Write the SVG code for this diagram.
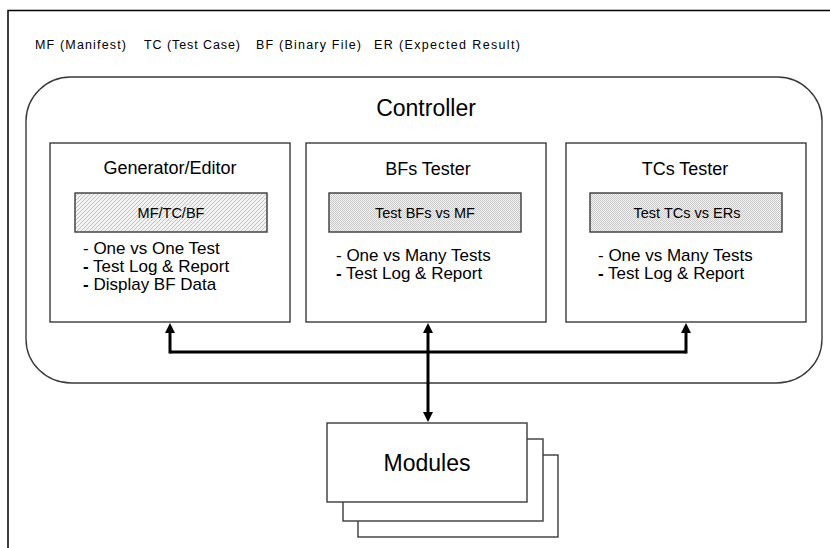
<svg xmlns="http://www.w3.org/2000/svg" width="830" height="548" viewBox="0 0 830 548">
<style>
  text { font-family: "Liberation Sans", Arial, sans-serif; fill: #000; }
  .frame { fill: none; stroke: #000; stroke-width: 1.5; }
  .box { fill: #fff; stroke: #3a3a3a; stroke-width: 1.4; }
  .ctrl { fill: #fff; stroke: #3a3a3a; stroke-width: 1.4; }
  .hatchbox { stroke: #3a3a3a; stroke-width: 1.4; }
  .legend { font-size: 12.5px; }
  .title { font-size: 18px; text-anchor: middle; }
  .big { font-size: 23px; text-anchor: middle; }
  .inner { font-size: 14.5px; text-anchor: middle; }
  .item { font-size: 17px; }
  .conn { fill: none; stroke: #000; stroke-width: 3; }
</style>
<defs>
  <pattern id="diag" width="4" height="4" patternUnits="userSpaceOnUse">
    <rect width="4" height="4" fill="#f2f2f2"/>
    <path d="M-1,1 L1,-1 M0,4 L4,0 M3,5 L5,3" stroke="#b8b8b8" stroke-width="0.8"/>
  </pattern>
  <pattern id="dots" width="2" height="2" patternUnits="userSpaceOnUse">
    <rect width="2" height="2" fill="#f4f4f4"/>
    <rect width="1" height="1" fill="#c8c8c8"/>
    <rect x="1" y="1" width="1" height="1" fill="#c8c8c8"/>
  </pattern>
  <marker id="ah" viewBox="0 0 10 10" refX="4" refY="5" markerWidth="10" markerHeight="10" markerUnits="userSpaceOnUse" orient="auto">
    <path d="M0,0 L10,5 L0,10 z" fill="#000"/>
  </marker>
</defs>

<path class="frame" d="M8,548 V10.5 H830"/>

<g id="legend">
  <text class="legend" x="35" y="49" textLength="91" lengthAdjust="spacing">MF (Manifest)</text>
  <text class="legend" x="144" y="49" textLength="96" lengthAdjust="spacing">TC (Test Case)</text>
  <text class="legend" x="256" y="49" textLength="105" lengthAdjust="spacing">BF (Binary File)</text>
  <text class="legend" x="374" y="49" textLength="146" lengthAdjust="spacing">ER (Expected Result)</text>
</g>

<g id="controller">
  <rect class="ctrl" x="26" y="77" width="796" height="306" rx="45" ry="44"/>
  <text class="big" x="426" y="116">Controller</text>
</g>

<g id="generator-editor">
  <rect class="box" x="50" y="143" width="240" height="179"/>
  <text class="title" x="170" y="174">Generator/Editor</text>
  <rect class="hatchbox" x="75" y="193" width="192" height="39" fill="url(#diag)"/>
  <text class="inner" x="171" y="218">MF/TC/BF</text>
  <text class="item" x="83" y="254">- One vs One Test</text>
  <text class="item" x="83" y="272"><tspan font-weight="bold">-</tspan> Test Log &amp; Report</text>
  <text class="item" x="83" y="290"><tspan font-weight="bold">-</tspan> Display BF Data</text>
</g>

<g id="bfs-tester">
  <rect class="box" x="306" y="143" width="240" height="179"/>
  <text class="title" x="428" y="175">BFs Tester</text>
  <rect class="hatchbox" x="329" y="193" width="192" height="39" fill="url(#dots)"/>
  <text class="inner" x="425" y="218">Test BFs vs MF</text>
  <text class="item" x="336" y="261">- One vs Many Tests</text>
  <text class="item" x="336" y="279"><tspan font-weight="bold">-</tspan> Test Log &amp; Report</text>
</g>

<g id="tcs-tester">
  <rect class="box" x="566" y="143" width="240" height="179"/>
  <text class="title" x="685" y="175">TCs Tester</text>
  <rect class="hatchbox" x="590" y="193" width="192" height="39" fill="url(#dots)"/>
  <text class="inner" x="687" y="218">Test TCs vs ERs</text>
  <text class="item" x="598" y="261">- One vs Many Tests</text>
  <text class="item" x="598" y="279"><tspan font-weight="bold">-</tspan> Test Log &amp; Report</text>
</g>

<g id="modules">
  <rect class="box" x="358" y="455" width="200" height="82"/>
  <rect class="box" x="343" y="439" width="200" height="82"/>
  <rect class="box" x="327" y="423" width="200" height="79"/>
  <text class="big" x="427" y="471">Modules</text>
</g>

<g id="connectors">
  <path class="conn" d="M170,352 H686"/>
  <path class="conn" d="M170,353.5 V329" marker-end="url(#ah)"/>
  <path class="conn" d="M686,353.5 V329" marker-end="url(#ah)"/>
  <path class="conn" d="M428,352 V329" marker-end="url(#ah)"/>
  <path class="conn" d="M428,352 V416" marker-end="url(#ah)"/>
</g>
</svg>
